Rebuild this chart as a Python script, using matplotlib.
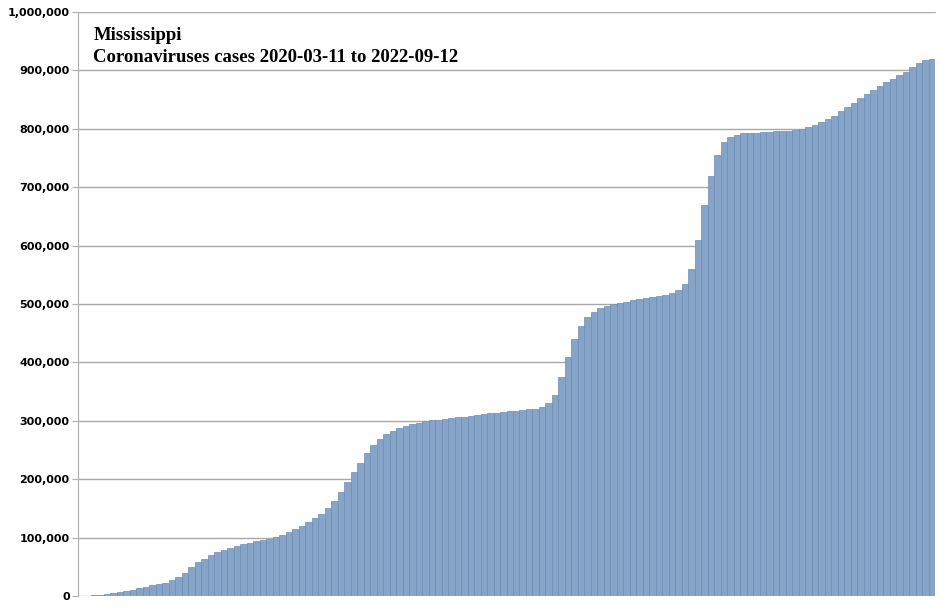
import matplotlib
matplotlib.use("Agg")
import matplotlib.pyplot as plt
from matplotlib.ticker import FuncFormatter

cases_k = [0,0.5,1,2,3.5,5,7,9,11,13,16,18,20,23,28,33,40,50,58,64,70,75,79,83,86,89,91,94,96,98,
           101,105,110,115,120,126,133,141,151,163,178,195,212,228,245,258,268,277,283,287,291,294,297,299,301,302,303,305,306,307,
           309,310,312,313,314,315,316,317,318,320,321,323,330,345,375,410,440,462,477,487,493,497,500,502,504,506,508,510,512,514,
           516,519,524,535,560,610,670,720,755,778,786,790,792,793,793.5,794,795,795.5,796,797,798,800,803,807,811,816,822,830,838,845,
           852,860,867,874,880,886,892,898,905,912,917,920]
cases = [v*1000 for v in cases_k]
title = "Mississippi\nCoronaviruses cases 2020-03-11 to 2022-09-12"

fig = plt.figure(figsize=(9.51, 6.12), dpi=100)
ax = fig.add_axes([78/951, 16/612, (935-78)/951, (596-12)/612])
x = list(range(len(cases)))
ax.bar(x, cases, width=1.0, color="#86a4c8", edgecolor="#6d8db5", linewidth=0.5, zorder=2)
ax.set_xlim(-0.5, len(cases)-0.5)
ax.set_ylim(0, 1_000_000)
ax.set_yticks(range(0, 1_000_001, 100_000))
ax.yaxis.set_major_formatter(FuncFormatter(lambda v, p: f"{int(v):,}"))
ax.set_xticks([])
ax.grid(axis="y", color="#a8a8a8", linewidth=1, zorder=3)
for s in ["right", "bottom"]:
    ax.spines[s].set_visible(False)
for s in ["left", "top"]:
    ax.spines[s].set_color("#b0b0b0")
ax.tick_params(axis="y", length=4, color="#b0b0b0", labelsize=8, pad=2)
for lbl in ax.get_yticklabels():
    lbl.set_fontweight("bold")
ax.text(0.018, 0.975, title, transform=ax.transAxes, va="top", ha="left",
        fontsize=13.5, fontweight="bold", family="Liberation Serif", linespacing=1.4)
fig.savefig("out.png", dpi=100)
